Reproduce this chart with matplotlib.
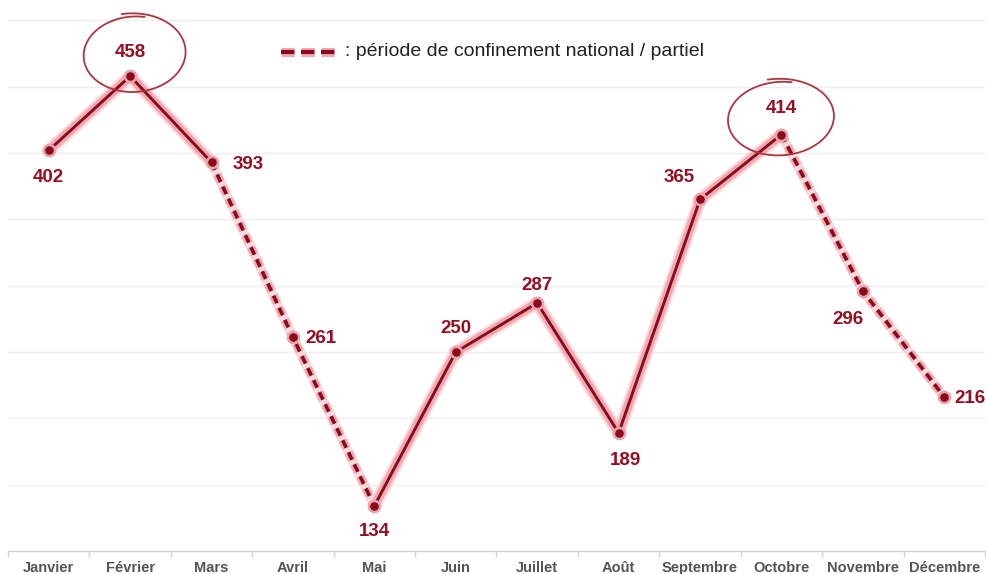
import numpy as np
import matplotlib
matplotlib.use("Agg")
import matplotlib.pyplot as plt
import matplotlib.transforms as mtransforms
import matplotlib.patheffects as pe
from matplotlib.lines import Line2D

# Monthly values
months = ["Janvier", "Février", "Mars", "Avril", "Mai", "Juin", "Juillet",
          "Août", "Septembre", "Octobre", "Novembre", "Décembre"]
values = [402, 458, 393, 261, 134, 250, 287, 189, 365, 414, 296, 216]
# Lockdown periods (index ranges drawn dashed)
lockdowns = [(2, 4), (9, 11)]
# Months highlighted with a hand-drawn ring
highlighted = [1, 9]
legend_text = ": période de confinement national / partiel"

# Label offsets in pixels (dx, dy) from each point
label_offsets = [(0, -27), (0, 24), (37, -2), (28, -1), (0, -26), (0, 24),
                 (0, 17), (7, -28), (-21, 22), (0, 26), (-15, -28), (26, -1)]

LINE = "#8c0a1c"
TEXT = "#960e22"
HALO = "#eea9b1"
RING = "#ab3640"

plt.rcParams["font.family"] = ["Liberation Sans", "DejaVu Sans"]

W, H = 987, 574
fig = plt.figure(figsize=(W / 100, H / 100), dpi=100)
ax = fig.add_axes([8 / W, 23 / H, 977 / W, 551 / H])
ax.set_xlim(-0.5, 11.5)
ax.set_ylim(100, 515.4)

for s in ["top", "right", "left"]:
    ax.spines[s].set_visible(False)
ax.spines["bottom"].set_color("#d2d2d2")
ax.spines["bottom"].set_linewidth(1.0)

ax.set_yticks(np.arange(150, 501, 50))
ax.tick_params(axis="y", left=False, labelleft=False)
ax.yaxis.grid(True, color="#eeeeee", linewidth=1.0)
ax.set_axisbelow(True)

x = np.arange(len(months))
ax.set_xticks(x)
ax.set_xticklabels(months, fontsize=10.5, fontweight="bold", color="#555555")
ax.tick_params(axis="x", length=0, pad=7)
ax.set_xticks(np.arange(-0.5, 12, 1), minor=True)
ax.tick_params(axis="x", which="minor", length=4, color="#d2d2d2", width=1)

# Split the series into solid and dashed runs
dashed_seg = np.zeros(len(values) - 1, dtype=bool)
for a, b in lockdowns:
    dashed_seg[a:b] = True
runs = []
start = 0
for i in range(1, len(dashed_seg) + 1):
    if i == len(dashed_seg) or dashed_seg[i] != dashed_seg[start]:
        runs.append((start, i, dashed_seg[start]))
        start = i

glow = [pe.Stroke(linewidth=9.5, foreground="#f8d6da", alpha=0.85),
        pe.Stroke(linewidth=6.5, foreground=HALO),
        pe.Normal()]
vals = np.array(values, dtype=float)
for a, b, dashed in runs:
    xs, ys = x[a:b + 1], vals[a:b + 1]
    if dashed:
        ax.plot(xs, ys, color="#f7d3d7", linewidth=7, solid_capstyle="round",
                zorder=2, alpha=0.85)
        ax.plot(xs, ys, color=LINE, linewidth=2.6, linestyle=(0, (2.3, 1.4)),
                zorder=3, path_effects=[pe.Stroke(linewidth=6, foreground=HALO),
                                        pe.Normal()])
    else:
        ax.plot(xs, ys, color=LINE, linewidth=2.1, zorder=3,
                solid_capstyle="round", path_effects=glow)

ax.plot(x, vals, linestyle="none", marker="o", markersize=8,
        markerfacecolor=LINE, markeredgecolor="#e8a3ab", markeredgewidth=1.8,
        zorder=4)

for xi, v, (dx, dy) in zip(x, values, label_offsets):
    ax.annotate(str(v), (xi, v), xytext=(dx, dy), textcoords="offset pixels",
                ha="center", va="center", fontsize=13.5, fontweight="bold",
                color=TEXT, zorder=5)

# Hand-drawn rings around the peaks (pixel geometry around each point)
ring_geom = {1: dict(c=(4, 22), a=51, b=38, tilt=4),
             9: dict(c=(-1, 16), a=53, b=37, tilt=4)}
for i in highlighted:
    g = ring_geom[i]
    t = np.radians(np.linspace(100, 100 - 385, 300))
    r = 0.99 + 0.1 * np.exp(-np.linspace(0, 6, t.size))
    ex = g["a"] * r * np.cos(t)
    ey = g["b"] * r * np.sin(t)
    th = np.radians(g["tilt"])
    px = g["c"][0] + ex * np.cos(th) - ey * np.sin(th)
    py = g["c"][1] + ex * np.sin(th) + ey * np.cos(th)
    tr = mtransforms.Affine2D() + mtransforms.ScaledTranslation(x[i], vals[i], ax.transData)
    ax.add_line(Line2D(px, py, transform=tr, color=RING, linewidth=1.3,
                       solid_capstyle="round", zorder=6, clip_on=False))

# Legend sample for the lockdown style
ly = 1 - 52 / H
fig.add_artist(Line2D([281 / W, 336 / W], [ly, ly], transform=fig.transFigure,
                      color=LINE, linewidth=3.0, linestyle=(0, (3.2, 1.6)),
                      path_effects=[pe.Stroke(linewidth=6.5, foreground=HALO),
                                    pe.Normal()]))
fig.text(345 / W, ly, legend_text, fontsize=14, color="#222222",
         ha="left", va="center")

fig.savefig("out.png", dpi=100)
